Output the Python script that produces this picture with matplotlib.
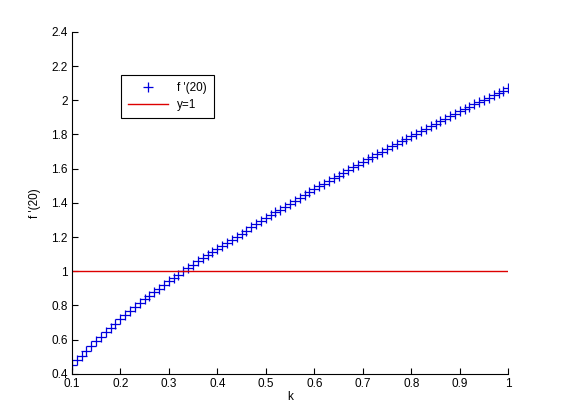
import matplotlib
matplotlib.use('Agg')
import matplotlib.pyplot as plt
import numpy as np

# k values 0.1:0.01:1 and the f'(20) values
k = [round(0.1 + 0.01 * i, 2) for i in range(91)]
fprime20 = [
    0.450, 0.479, 0.507, 0.535, 0.562, 0.589, 0.616, 0.642, 0.668, 0.694,
    0.720, 0.744, 0.767, 0.790, 0.813, 0.835, 0.857, 0.878, 0.899, 0.920,
    0.940, 0.960, 0.980, 1.000, 1.019, 1.038, 1.057, 1.076, 1.094, 1.112,
    1.130, 1.148, 1.166, 1.184, 1.202, 1.220, 1.238, 1.256, 1.274, 1.292,
    1.310, 1.327, 1.344, 1.361, 1.378, 1.395, 1.412, 1.429, 1.446, 1.463,
    1.480, 1.496, 1.512, 1.528, 1.544, 1.560, 1.576, 1.592, 1.608, 1.624,
    1.640, 1.655, 1.670, 1.685, 1.700, 1.715, 1.730, 1.745, 1.760, 1.775,
    1.790, 1.805, 1.819, 1.834, 1.848, 1.863, 1.877, 1.892, 1.906, 1.921,
    1.935, 1.949, 1.962, 1.976, 1.989, 2.003, 2.016, 2.030, 2.043, 2.057,
    2.070,
]
ref_x = [0.1, 1.0]
ref_y = [1, 1]

xticks = [0.1, 0.2, 0.3, 0.4, 0.5, 0.6, 0.7, 0.8, 0.9, 1.0]
xticklabels = ['0.1', '0.2', '0.3', '0.4', '0.5', '0.6', '0.7', '0.8', '0.9', '1']
yticks = [0.4, 0.6, 0.8, 1.0, 1.2, 1.4, 1.6, 1.8, 2.0, 2.2, 2.4]
yticklabels = ['0.4', '0.6', '0.8', '1', '1.2', '1.4', '1.6', '1.8', '2', '2.2', '2.4']

plt.rcParams['font.family'] = ['Liberation Sans', 'DejaVu Sans']

fig = plt.figure(figsize=(5.61, 4.20), dpi=100)
ax = fig.add_axes([0.128, 0.11, 0.778, 0.814])

ax.plot(k, fprime20, '+', color='#0000dd', markersize=6.5, markeredgewidth=0.9, label="f '(20)")
ax.plot(ref_x, ref_y, '-', color='#dd0000', linewidth=1.0, label='y=1')

ax.set_xlim(0.1, 1.0)
ax.set_ylim(0.4, 2.4)
ax.set_xticks(xticks)
ax.set_xticklabels(xticklabels)
ax.set_yticks(yticks)
ax.set_yticklabels(yticklabels)
ax.tick_params(direction='in', length=4, labelsize=8.5, width=0.8, pad=3)
ax.spines['top'].set_visible(False)
ax.spines['right'].set_visible(False)
ax.set_xlabel('k', fontsize=8.5, labelpad=1)
ax.set_ylabel("f '(20)", fontsize=8.5, labelpad=7)

leg = ax.legend(loc='upper left', bbox_to_anchor=(0.1, 0.89), fontsize=8.5,
                fancybox=False, framealpha=1, edgecolor='black',
                handlelength=3.4, borderpad=0.55, labelspacing=0.45)
leg.get_frame().set_linewidth(0.8)

fig.savefig('out.png', dpi=100)
